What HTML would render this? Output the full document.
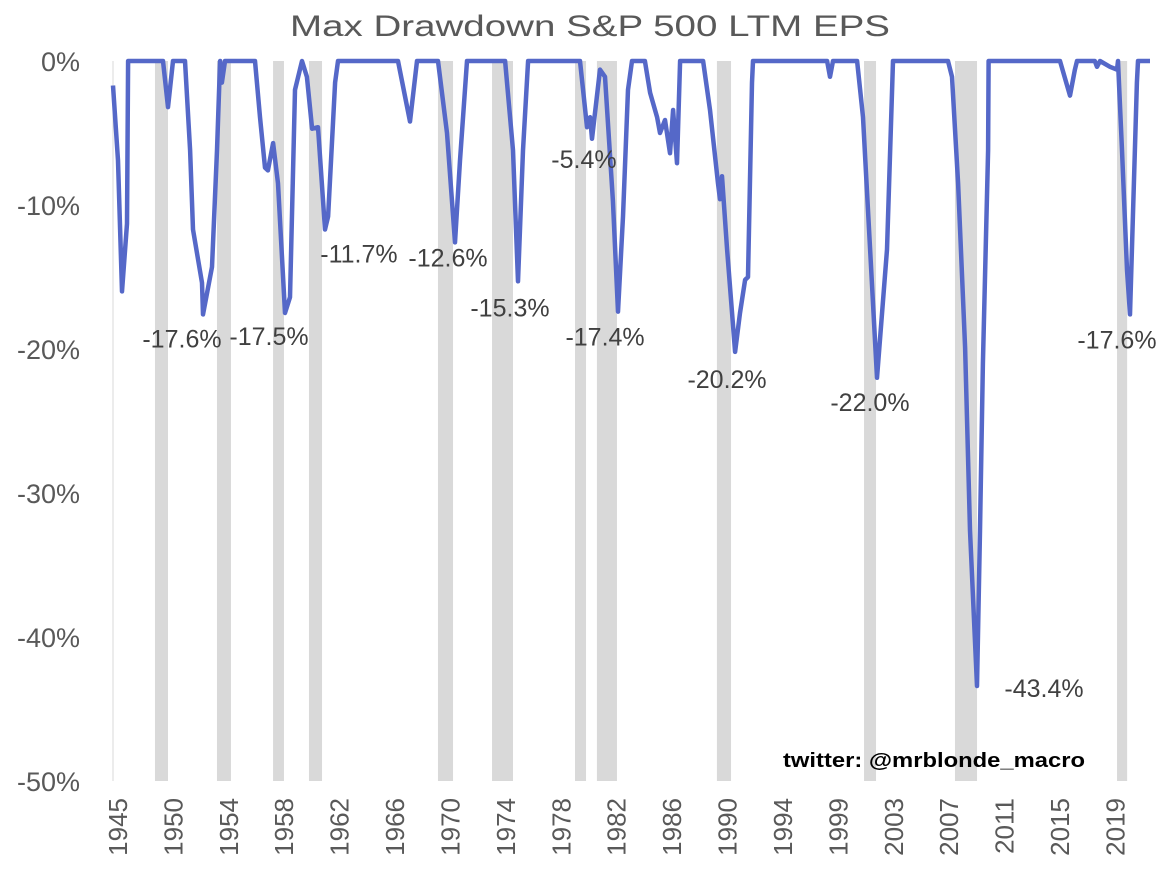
<!DOCTYPE html>
<html><head><meta charset="utf-8"><style>
html,body{margin:0;padding:0;background:#fff;}
svg{display:block;font-family:"Liberation Sans",Arial,sans-serif;}
</style></head><body>
<svg id="chart" width="1167" height="891" viewBox="0 0 1167 891">
<text x="590" y="36" text-anchor="middle" font-size="30" fill="#595959" textLength="600" lengthAdjust="spacingAndGlyphs">Max Drawdown S&amp;P 500 LTM EPS</text>
<g id="bars"></g>
<line x1="113" y1="61" x2="113" y2="781" stroke="#d9d9d9" stroke-width="1"/>
<g id="yaxis"></g><g id="xaxis"></g>
<path id="line" fill="none" stroke="#5568c8" stroke-width="4.5" stroke-linejoin="round"/>
<g id="labels"></g>
<text x="783" y="767" font-size="20" font-weight="bold" fill="#000" textLength="302" lengthAdjust="spacingAndGlyphs">twitter: @mrblonde_macro</text>
</svg>
<script>
const years=[1945.00,1945.37,1945.67,1946.04,1946.12,1948.72,1949.09,1949.46,1950.35,1950.73,1950.95,1951.62,1951.69,1952.36,1952.73,1952.96,1953.10,1953.33,1955.56,1955.93,1956.30,1956.52,1956.90,1957.27,1957.79,1958.16,1958.53,1959.05,1959.42,1959.80,1960.24,1960.76,1960.99,1961.51,1961.73,1966.19,1967.08,1967.60,1969.16,1969.83,1970.43,1970.80,1971.32,1974.15,1974.74,1975.11,1975.48,1975.86,1979.72,1980.24,1980.47,1980.61,1981.21,1981.58,1982.17,1982.55,1982.92,1983.29,1983.59,1984.55,1984.93,1985.45,1985.67,1986.04,1986.41,1986.64,1986.93,1987.16,1988.87,1989.39,1989.98,1990.13,1990.28,1990.66,1991.25,1991.62,1992.00,1992.21,1992.51,1992.58,1998.09,1998.31,1998.53,2000.32,2000.76,2001.80,2002.55,2002.99,2007.08,2007.38,2007.83,2008.35,2008.72,2009.24,2009.46,2009.68,2010.06,2010.10,2015.41,2016.15,2016.52,2016.67,2018.00,2018.16,2018.38,2019.13,2019.65,2019.72,2020.02,2020.39,2020.61,2020.83,2021.13,2021.21,2022.10];
const drawdown=[-1.7,-6.9,-16.0,-11.3,0,0,-3.2,0,0,-6.2,-11.7,-15.4,-17.6,-14.3,-6.2,0,-1.5,0,0,-3.9,-7.4,-7.6,-5.7,-8.5,-17.5,-16.4,-2.0,0,-1.1,-4.7,-4.6,-11.7,-10.8,-1.5,0,0,-4.2,0,0,-5.0,-12.6,-6.9,0,0,-6.2,-15.3,-6.2,0,0,-4.6,-3.9,-5.4,-0.6,-1.1,-9.7,-17.4,-10.8,-2.0,0,0,-2.2,-3.9,-5.0,-4.1,-6.4,-3.4,-7.1,0,0,-3.4,-8.5,-9.6,-8.0,-13.1,-20.2,-17.5,-15.2,-15.0,-1.5,0,0,-1.1,0,0,-3.9,-22.0,-13.1,0,0,-1.1,-8.5,-19.9,-32.6,-43.4,-32.6,-21.0,-6.2,0,0,-2.4,-0.6,0,0,-0.4,0,-0.4,-0.6,0,-6.2,-14.5,-17.6,-10.8,-1.5,0,0];
const recStart=[1948.12,1952.73,1956.90,1959.57,1969.16,1973.18,1979.35,1980.98,1989.90,2000.84,2007.60,2019.65];
const recEnd=[1949.09,1953.77,1957.71,1960.54,1970.28,1974.74,1980.17,1982.47,1990.95,2001.73,2009.24,2020.40];
const yTicks=[0,-10,-20,-30,-40,-50];
const xTickLabels=["1945","1950","1954","1958","1962","1966","1970","1974","1978","1982","1986","1990","1994","1999","2003","2007","2011","2015","2019"];
const annText=["-17.6%","-17.5%","-11.7%","-12.6%","-15.3%","-5.4%","-17.4%","-20.2%","-22.0%","-43.4%","-17.6%"];
const annYear=[1951.69,1957.79,1960.76,1970.43,1975.11,1980.61,1982.55,1991.25,2001.80,2009.24,2020.61];
const annVal=[-17.6,-17.5,-11.7,-12.6,-15.3,-5.4,-17.4,-20.2,-22.0,-43.4,-17.6];
const annDx=[-21,-16,34,-7,-8,-8,-13,-8,-7,67,-13];
const annDy=[33,32,33,24,35,29,34,36,33,11,34];

const NS="http://www.w3.org/2000/svg";
const xS=y=>113+(y-1945)*13.45;
const yS=v=>61-v*14.4;
function mk(tag,attrs,parent){const e=document.createElementNS(NS,tag);for(const k in attrs)e.setAttribute(k,attrs[k]);parent.appendChild(e);return e;}
const bars=document.getElementById('bars');
recStart.forEach((s,i)=>{const r=mk('rect',{x:xS(s),y:61,width:xS(recEnd[i])-xS(s),height:720,fill:'#d9d9d9'},bars);

});
const ya=document.getElementById('yaxis');
yTicks.forEach(v=>{const t=mk('text',{x:80,y:yS(v)+10,'text-anchor':'end','font-size':27,fill:'#595959'},ya);t.textContent=v+'%';

});
const xa=document.getElementById('xaxis');
xTickLabels.forEach((l,i)=>{const yr=1945.37+i*4.12;const x=xS(yr)+9;const t=mk('text',{x:0,y:0,transform:`translate(${x},798) rotate(-90)`,'text-anchor':'end','font-size':26,fill:'#595959'},xa);t.textContent=l;

});
let d='';years.forEach((y,i)=>{d+=(i?'L':'M')+xS(y).toFixed(1)+' '+yS(drawdown[i]).toFixed(1);});
document.getElementById('line').setAttribute('d',d);
const lb=document.getElementById('labels');
annText.forEach((s,i)=>{const t=mk('text',{x:xS(annYear[i])+annDx[i],y:yS(annVal[i])+annDy[i],'text-anchor':'middle','font-size':25,fill:'#404040'},lb);t.textContent=s;

});
</script>
</body></html>
